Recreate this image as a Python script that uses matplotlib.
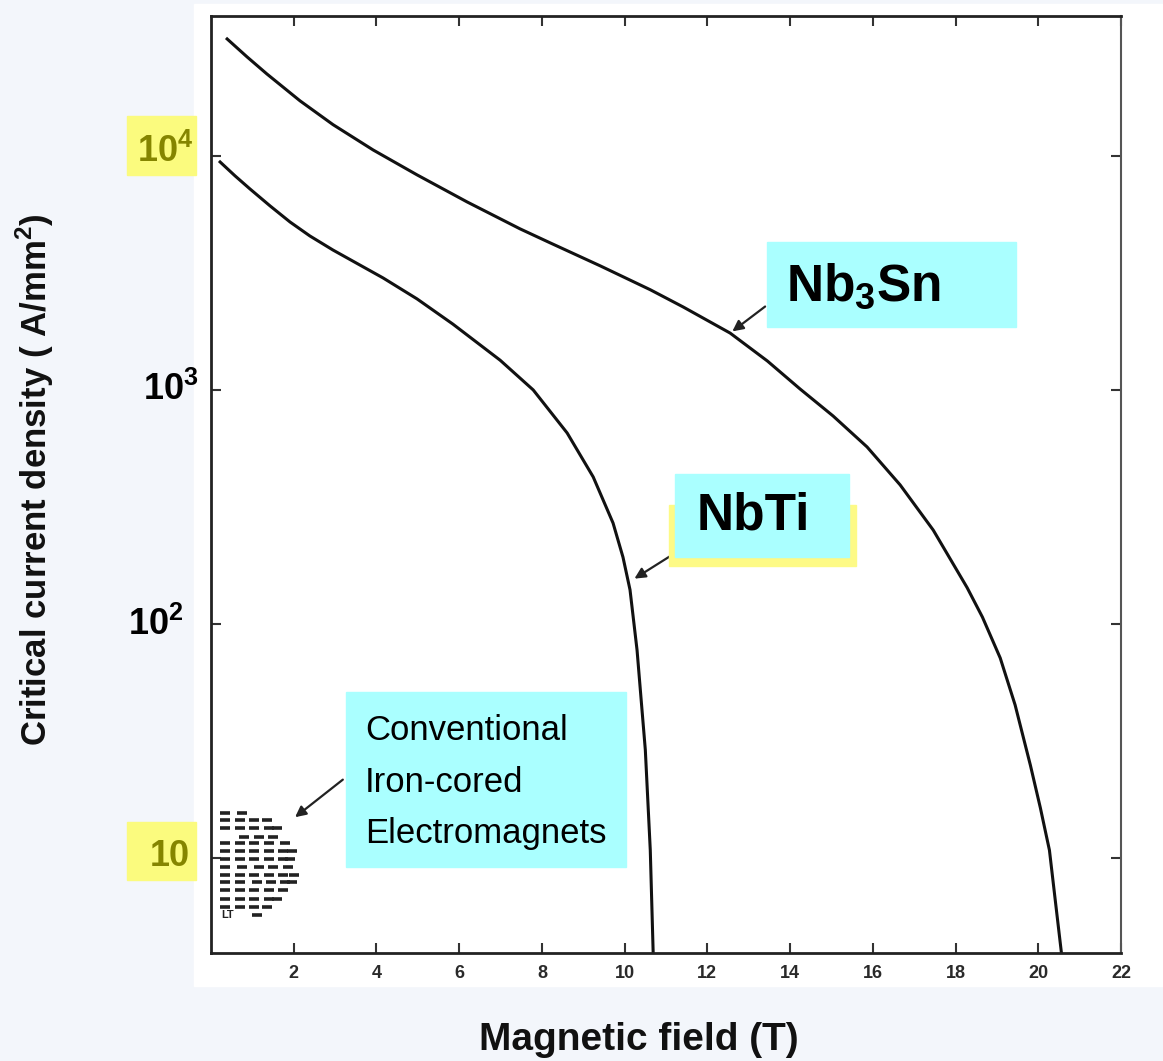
import matplotlib
matplotlib.use("Agg")
import matplotlib.pyplot as plt
from matplotlib.patches import Rectangle
from matplotlib.ticker import NullLocator

plt.rcParams['font.family'] = ['Liberation Sans', 'DejaVu Sans']
plt.rcParams['mathtext.fontset'] = 'custom'
plt.rcParams['mathtext.rm'] = 'Liberation Sans'
plt.rcParams['mathtext.bf'] = 'Liberation Sans:bold'

# critical current density curves (field in T, Jc in A/mm^2)
nb3sn_field = [0.39, 0.87, 1.35, 2.15, 2.95, 3.92, 4.98, 6.19, 7.47, 8.20, 9.41,
               10.62, 11.42, 12.55, 13.45, 14.24, 15.04, 15.86, 16.66, 17.46,
               18.28, 18.65, 19.08, 19.44, 19.81, 20.05, 20.27, 20.41, 20.56]
nb3sn_jc = [31600, 26500, 22400, 17200, 13600, 10600, 8300, 6360, 4880, 4250, 3390,
            2680, 2260, 1750, 1330, 1010, 774, 571, 393, 252,
            143, 107, 71.6, 45.1, 24.9, 16.4, 10.8, 6.62, 3.93]

nbti_field = [0.22, 0.58, 0.94, 1.43, 1.91, 2.39, 2.95, 4.16, 4.98, 5.85, 6.99,
              7.79, 8.61, 9.24, 9.72, 9.96, 10.13, 10.30, 10.40, 10.50, 10.56,
              10.62, 10.69]
nbti_jc = [9420, 8220, 7230, 6110, 5220, 4550, 3960, 3010, 2450, 1910, 1340,
           1000, 655, 425, 270, 193, 140, 77.4, 47.3, 29.0, 17.7,
           10.8, 3.93]

# iron-cored electromagnets: rows of dashes
dash_rows_jc = [15.6, 14.5, 13.4, 12.3, 11.6, 10.7, 9.9, 9.2, 8.5, 7.9, 7.3, 6.7, 6.2, 5.7]
dash_rows_field = [
    [0.35, 0.75],
    [0.35, 0.7, 1.05, 1.35],
    [0.35, 0.7, 1.05, 1.4, 1.6],
    [0.8, 1.15, 1.5],
    [0.35, 0.7, 1.05, 1.4, 1.8],
    [0.35, 0.7, 1.05, 1.4, 1.75, 1.95],
    [0.35, 0.7, 1.05, 1.4, 1.75, 1.9],
    [0.35, 0.75, 1.15, 1.5, 1.85],
    [0.35, 0.7, 1.05, 1.4, 1.75, 2.0],
    [0.35, 0.7, 1.1, 1.45, 1.8, 1.95],
    [0.35, 0.7, 1.05, 1.4, 1.75],
    [0.35, 0.7, 1.05, 1.4, 1.6],
    [0.35, 0.7, 1.05, 1.35],
    [1.1],
]

x_ticks = [2, 4, 6, 8, 10, 12, 14, 16, 18, 20, 22]
y_ticks = [10, 100, 1000, 10000]
y_tick_labels = [r'10', r'10$^\mathbf{2}$', r'10$^\mathbf{3}$', r'10$^\mathbf{4}$']
conv_lines = ['Conventional', 'Iron-cored', 'Electromagnets']

W, H = 1163, 1061


def fx(px):
    return px / W


def fy(py):
    return 1 - py / H


fig = plt.figure(figsize=(W / 100, H / 100), dpi=100, facecolor='#f3f6fb')
fig.patches.append(Rectangle((fx(194), fy(986)), (W - 194) / W, (986 - 4) / H,
                             transform=fig.transFigure, color='white', zorder=0))

ax = fig.add_axes([fx(211), fy(953), (1121 - 211) / W, (953 - 16) / H])
ax.set_zorder(2)
ax.patch.set_alpha(0)
ax.set_yscale('log')
ax.set_xlim(0, 22)
ax.set_ylim(3.93, 39600)

ax.plot(nb3sn_field, nb3sn_jc, color='#111111', lw=2.2)
ax.plot(nbti_field, nbti_jc, color='#111111', lw=2.2)
for yv, xs in zip(dash_rows_jc, dash_rows_field):
    ax.plot(xs, [yv] * len(xs), ls='none', marker='_', ms=7, mew=2.6, color='#222222')
ax.text(0.4, 5.7, 'LT', fontsize=8, fontweight='bold', ha='center', va='center', color='#222')

for s in ['left', 'bottom', 'top']:
    ax.spines[s].set_linewidth(2.0)
    ax.spines[s].set_color('#222222')
ax.spines['right'].set_linewidth(1.5)
ax.spines['right'].set_color('#555555')

ax.set_xticks(x_ticks)
ax.set_xticklabels([str(t) for t in x_ticks], fontsize=13, fontweight='bold', color='#2a2a2a')
ax.tick_params(axis='x', direction='in', top=True, length=7, width=1.5, pad=9, colors='#333333')
ax.tick_params(axis='x', labelcolor='#2a2a2a')
ax.yaxis.set_minor_locator(NullLocator())
ax.set_yticks(y_ticks)
ax.set_yticklabels([])
ax.tick_params(axis='y', direction='in', right=True, length=7, width=1.5, colors='#333333')

# y tick labels drawn beside the scanned image
hl_pix = {10: (127, 822, 196, 880), 10000: (127, 116, 196, 175)}
ypix = {10: 856, 100: 625, 1000: 390, 10000: 152}
xpix = {10: 170, 100: 156, 1000: 171, 10000: 165}
for v, lab in zip(y_ticks, y_tick_labels):
    col = 'black'
    if v in hl_pix:
        x0, y0, x1, y1 = hl_pix[v]
        fig.patches.append(Rectangle((fx(x0), fy(y1)), (x1 - x0) / W, (y1 - y0) / H,
                                     transform=fig.transFigure, color='#fbfb7e', zorder=1))
        col = '#858500'
    fig.text(fx(xpix[v]), fy(ypix[v]), lab, fontsize=26, fontweight='bold', color=col,
             ha='center', va='center', zorder=2)

fig.text(fx(35), fy(480), r'Critical current density ( A/mm$^\mathbf{2}$)', rotation=90,
         fontsize=25, fontweight='bold', ha='center', va='center', color='#111111')
fig.text(fx(639), fy(1040), 'Magnetic field (T)', fontsize=28, fontweight='bold',
         ha='center', va='center', color='#111111')

# label boxes
cyan = '#aaffff'
fig.patches.append(Rectangle((fx(767), fy(327)), (1016 - 767) / W, (327 - 242) / H,
                             transform=fig.transFigure, color=cyan, zorder=3))
fig.text(fx(786), fy(287), r'Nb$_\mathbf{3}$Sn', fontsize=37, fontweight='bold',
         ha='left', va='center', zorder=4)

fig.patches.append(Rectangle((fx(669), fy(566)), (856 - 669) / W, (566 - 505) / H,
                             transform=fig.transFigure, color='#fdfa86', zorder=3))
fig.patches.append(Rectangle((fx(675), fy(557)), (849 - 675) / W, (557 - 474) / H,
                             transform=fig.transFigure, color=cyan, zorder=3))
fig.text(fx(697), fy(516), 'NbTi', fontsize=37, fontweight='bold',
         ha='left', va='center', zorder=4)

fig.patches.append(Rectangle((fx(346), fy(867)), (626 - 346) / W, (867 - 692) / H,
                             transform=fig.transFigure, color=cyan, zorder=3))
for i, line in enumerate(conv_lines):
    fig.text(fx(365), fy(730 + 52 * i), line, fontsize=25,
             ha='left', va='center', zorder=4)

arrow = dict(arrowstyle='-|>', color='#222222', lw=1.6, mutation_scale=16)
ax.annotate('', xy=(12.55, 1750), xytext=(13.45, 2310), arrowprops=arrow)
ax.annotate('', xy=(10.18, 154), xytext=(11.22, 201), arrowprops=arrow)
ax.annotate('', xy=(1.98, 14.7), xytext=(3.24, 22.0), arrowprops=arrow)

fig.savefig('out.png', dpi=100, facecolor=fig.get_facecolor())
